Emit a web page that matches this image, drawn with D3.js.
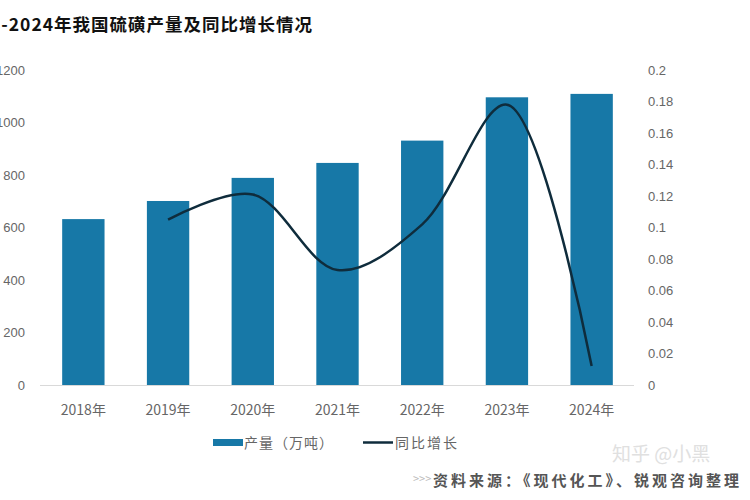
<!DOCTYPE html>
<html>
<head>
<meta charset="utf-8">
<script src="https://cdn.jsdelivr.net/npm/d3@7"></script>
<style>
  body { margin: 0; background: #fff; }
  svg { display: block; font-family: "Noto Sans CJK SC", "Noto Sans", sans-serif; }
</style>
</head>
<body>
<div id="chart"></div>
<script>
// data
var years = ["2018年", "2019年", "2020年", "2021年", "2022年", "2023年", "2024年"];
var output = [632, 701, 789, 846, 931, 1096, 1109];          // 产量（万吨）
var growth = [null, 0.105, 0.121, 0.073, 0.102, 0.178, 0.012]; // 同比增长
var leftTicks = [0, 200, 400, 600, 800, 1000, 1200];
var rightTicks = [0, 0.02, 0.04, 0.06, 0.08, 0.1, 0.12, 0.14, 0.16, 0.18, 0.2];

var width = 750, height = 500;
var barColor = "#1778a7", lineColor = "#0f2c3c", textColor = "#666";

var svg = d3.select("#chart").append("svg")
    .attr("width", width)
    .attr("height", height);

var x = d3.scaleBand()
    .domain(years)
    .range([41, 634])
    .paddingInner(0.5)
    .paddingOuter(0.25);

var y = d3.scaleLinear().domain([0, 1200]).range([385, 70]);
var y2 = d3.scaleLinear().domain([0, 0.2]).range([385, 70]);

// title (its left part is cut off in the original image)
svg.append("text")
    .attr("x", -44)
    .attr("y", 31)
    .attr("font-size", 17.5)
    .attr("letter-spacing", 1)
    .attr("font-weight", "bold")
    .attr("fill", "#111")
    .text("2018-2024年我国硫磺产量及同比增长情况");

// left axis labels
svg.append("g").selectAll("text")
    .data(leftTicks)
    .join("text")
    .attr("x", 25)
    .attr("y", d => y(d))
    .attr("dy", "0.35em")
    .attr("text-anchor", "end")
    .attr("font-family", "Liberation Sans, sans-serif")
    .attr("font-size", 13)
    .attr("fill", textColor)
    .text(d => d);

// right axis labels
svg.append("g").selectAll("text")
    .data(rightTicks)
    .join("text")
    .attr("x", 648)
    .attr("y", d => y2(d))
    .attr("dy", "0.35em")
    .attr("font-family", "Liberation Sans, sans-serif")
    .attr("font-size", 13)
    .attr("fill", textColor)
    .text(d => d3.format("~g")(d));

// baseline
svg.append("line")
    .attr("x1", 40).attr("x2", 634)
    .attr("y1", y(0) + 0.5).attr("y2", y(0) + 0.5)
    .attr("stroke", "#d9d9d9")
    .attr("stroke-width", 1);

// bars
svg.append("g").selectAll("rect")
    .data(output)
    .join("rect")
    .attr("x", (d, i) => x(years[i]))
    .attr("y", d => y(d))
    .attr("width", x.bandwidth())
    .attr("height", d => y(0) - y(d))
    .attr("fill", barColor);

// growth line (smoothed)
var pts = growth.map((d, i) => ({year: years[i], v: d})).filter(d => d.v != null);
var line = d3.line()
    .x(d => x(d.year) + x.bandwidth() / 2)
    .y(d => y2(d.v))
    .curve(d3.curveCatmullRom.alpha(0.5));

svg.append("path")
    .datum(pts)
    .attr("d", line)
    .attr("fill", "none")
    .attr("stroke", lineColor)
    .attr("stroke-width", 2.5);

// x labels
svg.append("g").selectAll("text")
    .data(years)
    .join("text")
    .attr("x", d => x(d) + x.bandwidth() / 2)
    .attr("y", 415)
    .attr("text-anchor", "middle")
    .attr("font-size", 14)
    .attr("fill", textColor)
    .text(d => d);

// legend
var lg = svg.append("g");
lg.append("rect")
    .attr("x", 213).attr("y", 439)
    .attr("width", 30).attr("height", 7)
    .attr("fill", barColor);
lg.append("text")
    .attr("x", 244).attr("y", 448)
    .attr("font-size", 14)
    .attr("letter-spacing", 1)
    .attr("fill", textColor)
    .text("产量（万吨）");
lg.append("line")
    .attr("x1", 363).attr("x2", 393)
    .attr("y1", 442.5).attr("y2", 442.5)
    .attr("stroke", lineColor)
    .attr("stroke-width", 2.5);
lg.append("text")
    .attr("x", 395).attr("y", 448)
    .attr("font-size", 14)
    .attr("letter-spacing", 2)
    .attr("fill", textColor)
    .text("同比增长");

// watermark + source
svg.append("text")
    .attr("x", 612).attr("y", 461)
    .attr("font-size", 19)
    .attr("fill", "#e0e0e0")
    .text("知乎 @小黑");

svg.append("text")
    .attr("x", 413).attr("y", 483)
    .attr("font-size", 11)
    .attr("fill", "#bbb")
    .text(">>>");
svg.append("text")
    .attr("x", 433).attr("y", 486)
    .attr("font-size", 15)
    .attr("letter-spacing", 3)
    .attr("font-weight", "bold")
    .attr("fill", "#555")
    .text("资料来源：《现代化工》、锐观咨询整理");
</script>
</body>
</html>
